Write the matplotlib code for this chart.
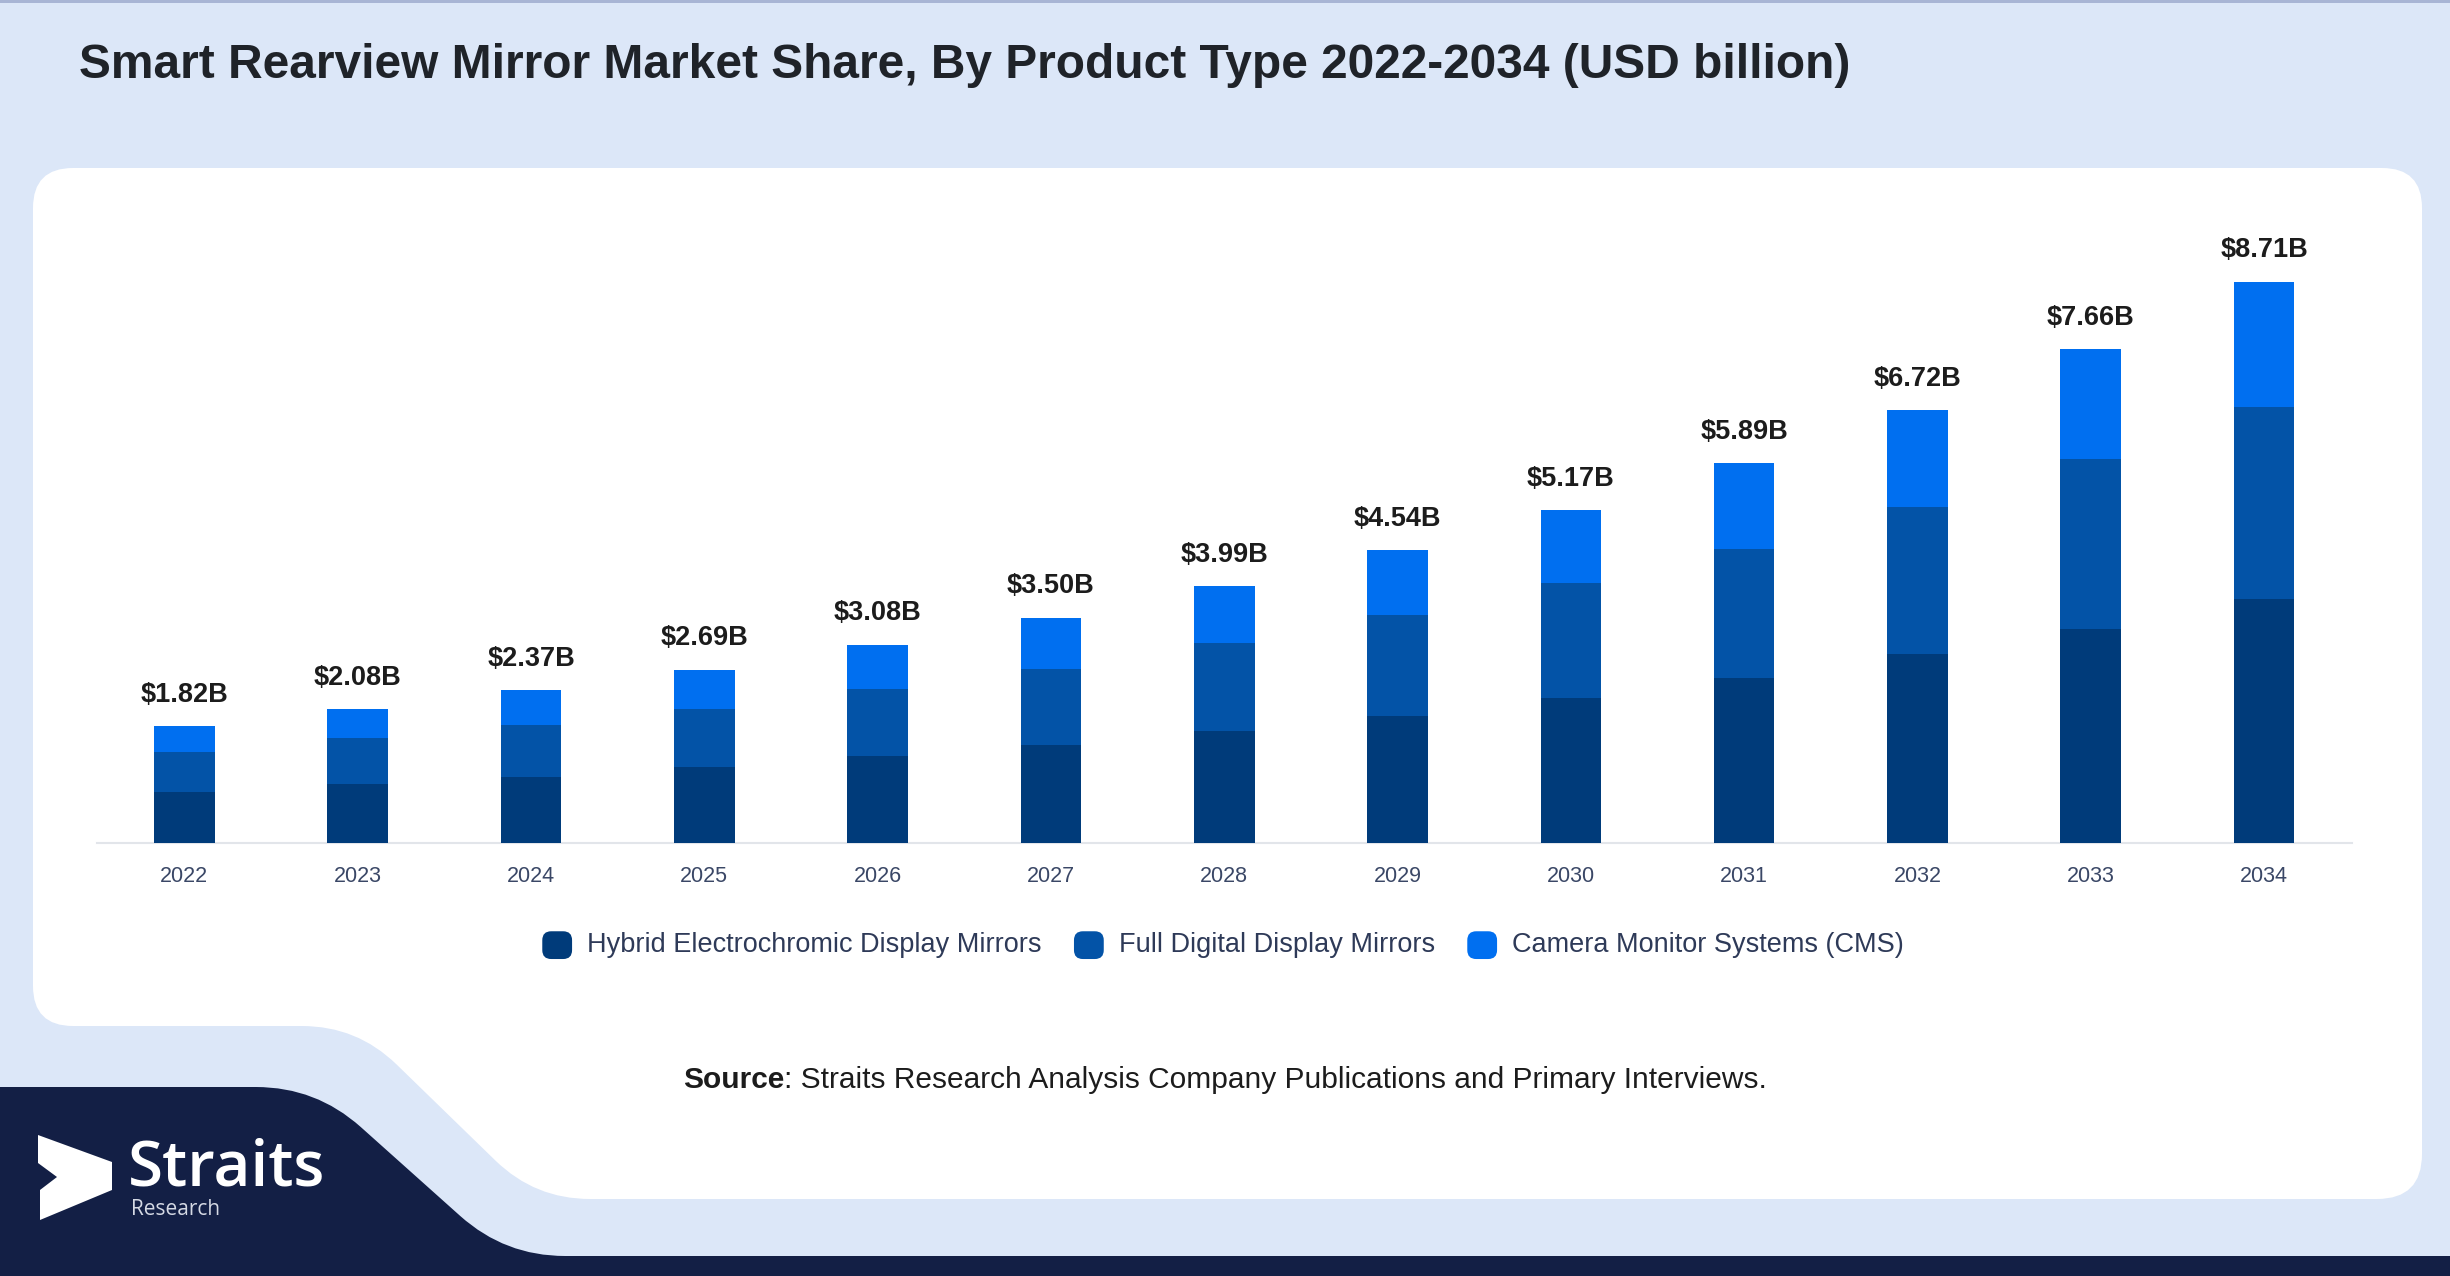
import numpy as np
import matplotlib
matplotlib.use("Agg")
import matplotlib.pyplot as plt
from matplotlib.patches import PathPatch, FancyBboxPatch, Patch, Polygon
from matplotlib.path import Path
from matplotlib.legend_handler import HandlerPatch

# ---------------- data ----------------
years = ["2022", "2023", "2024", "2025", "2026", "2027", "2028",
         "2029", "2030", "2031", "2032", "2033", "2034"]
hybrid = [0.80, 0.92, 1.03, 1.18, 1.35, 1.53, 1.74, 1.98, 2.25, 2.56, 2.93, 3.33, 3.79]
full_digital = [0.61, 0.71, 0.81, 0.90, 1.04, 1.18, 1.36, 1.56, 1.78, 2.01, 2.29, 2.63, 2.98]
cms = [0.41, 0.45, 0.53, 0.61, 0.69, 0.79, 0.89, 1.00, 1.14, 1.32, 1.50, 1.70, 1.94]
total_labels = ["$1.82B", "$2.08B", "$2.37B", "$2.69B", "$3.08B", "$3.50B", "$3.99B",
                "$4.54B", "$5.17B", "$5.89B", "$6.72B", "$7.66B", "$8.71B"]
series_names = ["Hybrid Electrochromic Display Mirrors",
                "Full Digital Display Mirrors",
                "Camera Monitor Systems (CMS)"]
title = "Smart Rearview Mirror Market Share, By Product Type 2022-2034 (USD billion)"

# ---------------- style ----------------
C_HYB = "#003b7a"
C_FULL = "#0353a7"
C_CMS = "#006ff0"
BG = "#dce7f8"
NAVY = "#131f45"
TXT = "#3a4766"

plt.rcParams["font.family"] = ["Liberation Sans", "DejaVu Sans"]

W, H = 2450, 1276
fig = plt.figure(figsize=(W / 100, H / 100), dpi=100, facecolor=BG)

# background drawing axes in pixel coordinates (y down)
bg = fig.add_axes([0, 0, 1, 1], zorder=0)
bg.set_xlim(0, W)
bg.set_ylim(H, 0)
bg.axis("off")


def rounded_path(pts, radii):
    verts, codes = [], []
    n = len(pts)
    for i in range(n):
        p0 = np.array(pts[i - 1], float)
        p1 = np.array(pts[i], float)
        p2 = np.array(pts[(i + 1) % n], float)
        r = radii[i]
        d1 = p0 - p1
        d2 = p2 - p1
        l1 = np.hypot(*d1)
        l2 = np.hypot(*d2)
        a = p1 + d1 / l1 * min(r, l1 / 2)
        b = p1 + d2 / l2 * min(r, l2 / 2)
        verts.append(a)
        codes.append(Path.MOVETO if i == 0 else Path.LINETO)
        verts += [p1, b]
        codes += [Path.CURVE3, Path.CURVE3]
    verts.append(verts[0])
    codes.append(Path.CLOSEPOLY)
    return Path(verts, codes)


# top thin border
bg.add_patch(plt.Rectangle((0, 0), W, 2.5, color="#a8b5d5", lw=0))

# white panel
white_pts = [(33, 168), (2422, 168), (2422, 1199), (535, 1199), (357, 1026), (33, 1026)]
white_r = [40, 40, 45, 55, 55, 40]
bg.add_patch(PathPatch(rounded_path(white_pts, white_r), facecolor="white", lw=0))

# dark navy shape
dark_pts = [(0, 1087), (316, 1087), (505, 1256), (W, 1256), (W, H), (0, H)]
dark_r = [0, 60, 60, 0, 0, 0]
bg.add_patch(PathPatch(rounded_path(dark_pts, dark_r), facecolor=NAVY, lw=0))

# logo icon
icon = [(38, 1135), (112, 1162), (112, 1190), (40, 1220), (40, 1190),
        (57, 1177), (38, 1163)]
bg.add_patch(Polygon(icon, closed=True, facecolor="white", lw=0))
bg.text(128, 1185, "Straits", color="white", fontsize=46, fontweight="semibold",
        family=["Open Sans", "DejaVu Sans"], va="baseline", ha="left")
bg.text(131, 1215, "Research", color="#d5d9e4", fontsize=15,
        family=["Open Sans", "DejaVu Sans"], va="baseline", ha="left")

# title
fig.text(79 / W, 1 - 78.5 / H, title, fontsize=34.5, fontweight="bold",
         color="#1f2329", va="baseline", ha="left")

# ---------------- chart ----------------
left = 96.9 / W
right = 2351.6 / W
base = 843.3
ytop = 10.0
px_per_unit = 64.5
ax = fig.add_axes([left, (H - base) / H, right - left, ytop * px_per_unit / H], zorder=2)
ax.set_facecolor("none")

x = np.arange(len(years))
bw = 0.35
b1 = np.array(hybrid)
b2 = b1 + np.array(full_digital)
tops = b2 + np.array(cms)
ax.bar(x, hybrid, bw, color=C_HYB, label=series_names[0], zorder=3)
ax.bar(x, full_digital, bw, bottom=b1, color=C_FULL, label=series_names[1], zorder=3)
ax.bar(x, cms, bw, bottom=b2, color=C_CMS, label=series_names[2], zorder=3)

for xi, t, lab in zip(x, tops, total_labels):
    ax.annotate(lab, (xi, t), xytext=(0, 17.5), textcoords="offset points",
                ha="center", va="baseline", fontsize=19.5, fontweight="bold",
                color="#1c1c1c")

ax.set_xlim(-0.505, len(years) - 1 + 0.505)
ax.set_ylim(0, ytop)
ax.set_xticks(x)
ax.set_xticklabels(years, fontsize=15.5, color=TXT)
ax.tick_params(axis="x", length=0, pad=16.5)
ax.set_yticks([])
for s in ["top", "right", "left"]:
    ax.spines[s].set_visible(False)
ax.spines["bottom"].set_color("#e2e5ea")
ax.spines["bottom"].set_linewidth(1.5)


class RoundHandler(HandlerPatch):
    def create_artists(self, legend, orig_handle, xdescent, ydescent, width,
                       height, fontsize, trans):
        p = FancyBboxPatch((-xdescent, -ydescent - 2), width, height,
                           boxstyle="round,pad=0,rounding_size=%f" % (min(width, height) * 0.32),
                           facecolor=orig_handle.get_facecolor(), lw=0,
                           transform=trans)
        return [p]


handles = [Patch(facecolor=c) for c in (C_HYB, C_FULL, C_CMS)]
leg = fig.legend(handles, series_names, loc="center",
                 bbox_to_anchor=(1223 / W, 1 - 943 / H), ncol=3, frameon=False,
                 fontsize=19.5, handlelength=1.1, handleheight=1.2,
                 handletextpad=0.55, columnspacing=1.2,
                 handler_map={Patch: RoundHandler()})
for t in leg.get_texts():
    t.set_color("#2e3a58")

# source line (bold "Source" + regular rest), centered
renderer = fig.canvas.get_renderer()
t1 = fig.text(0, 1 - 1087.5 / H, "Source", fontsize=21.5, fontweight="bold",
              color="#1c1c1c", va="baseline", ha="left")
t2 = fig.text(0, 1 - 1087.5 / H,
              ": Straits Research Analysis Company Publications and Primary Interviews.",
              fontsize=21.5, color="#1c1c1c", va="baseline", ha="left")
w1 = t1.get_window_extent(renderer).width
w2 = t2.get_window_extent(renderer).width
x0 = (W / 2 - (w1 + w2) / 2)
t1.set_x(x0 / W)
t2.set_x((x0 + w1) / W)

fig.savefig("out.png", dpi=100, facecolor=BG)
